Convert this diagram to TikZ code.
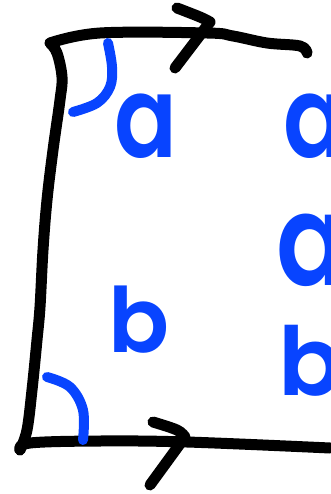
\documentclass[tikz,border=0pt]{standalone}
\usepackage{fontspec}
\newfontfamily\handfont{Poppins SemiBold}
\definecolor{hblue}{RGB}{8,68,255}
\tikzset{
  ink/.style={line width=11pt, line cap=round, line join=round, black},
  blueink/.style={line width=10pt, line cap=round, line join=round, hblue},
  letter/.style={inner sep=0pt, anchor=base west, text=hblue}
}
\newcommand{\narrow}[1]{\scalebox{0.82}[1]{#1}}
\begin{document}
\begin{tikzpicture}[x=1pt,y=-1pt]
\useasboundingbox (0,0) rectangle (330,494);
% frame
\draw[ink] plot[smooth, tension=0.6] coordinates {(307,53) (300,46) (267,43) (233,36) (207,33) (100,33) (50,43)};
\draw[ink] plot[smooth, tension=0.6] coordinates {(50,43) (57,53) (62,77) (60,100) (53,150) (47,200) (43,250) (40,307) (37,340) (32,390) (27,430) (20,450)};
\draw[ink] plot[smooth, tension=0.6] coordinates {(20,450) (30,443) (100,441) (187,442) (330,448)};
% arrows
\draw[ink] plot[smooth, tension=0.6] coordinates {(177,8) (200,17) (210,22)} -- (175,68);
\draw[ink] plot[smooth, tension=0.6] coordinates {(153,422) (177,430) (185,437)} -- (150,485);
% angle marks
\draw[blueink] plot[smooth, tension=0.6] coordinates {(108,43) (112,67) (110,87) (97,103) (73,112)};
\draw[blueink] plot[smooth, tension=0.6] coordinates {(47,377) (70,387) (83,410) (83,440)};
% letters
\node[letter, font=\handfont\fontsize{113}{113}\selectfont] (la) at (114,158) {\narrow{a}};
\node[letter, font=\handfont\fontsize{113}{113}\selectfont] (ra) at (283,158) {\narrow{a}};
\node[letter, font=\handfont\fontsize{127}{127}\selectfont] (ra2) at (276,285) {\narrow{a}};
\node[letter, font=\handfont\fontsize{90}{90}\selectfont] (lb) at (108,352) {b};
\node[letter, font=\handfont\fontsize{95}{95}\selectfont] (rb) at (278,395) {b};
\end{tikzpicture}
\end{document}
